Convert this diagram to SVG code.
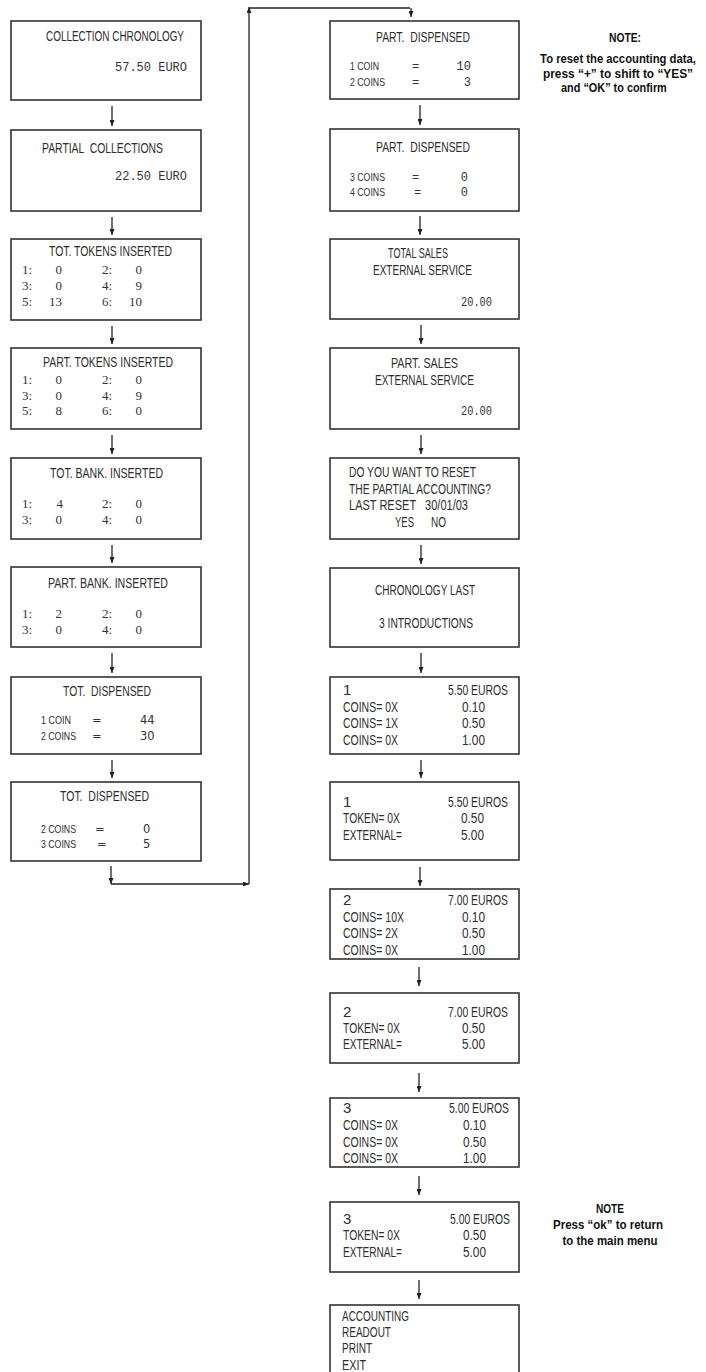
<svg xmlns="http://www.w3.org/2000/svg" width="706" height="1372" viewBox="0 0 706 1372">
<style>
.bg{fill:#fff}
.box{fill:#fff;stroke:#333;stroke-width:1.6}
.t{font-family:"Liberation Sans Narrow","Liberation Sans",Arial,sans-serif;font-size:14px;fill:#2e2e2e;white-space:pre}
.t14{font-size:15px}
.s{font-size:11.5px}
.m{font-family:"Liberation Mono","Courier New",monospace;font-size:12px;fill:#333;white-space:pre}
.r{font-family:"Liberation Serif","Times New Roman",serif;font-size:13px;fill:#333}
.d{font-family:"DejaVu Sans",Verdana,sans-serif;font-size:11.5px;fill:#333}
.e{text-anchor:end}
.n{font-family:"Liberation Sans Narrow","Liberation Sans",Arial,sans-serif;font-weight:bold;font-size:13.5px;fill:#111;text-anchor:middle}
.c{stroke:#222;stroke-width:1.3;fill:none}
</style>
<defs>
<marker id="ah" markerWidth="6" markerHeight="5" refX="6" refY="2.5" orient="auto" markerUnits="userSpaceOnUse"><path d="M0,0 L6,2.5 L0,5 z" fill="#222"/></marker>
</defs>
<rect class="bg" x="0" y="0" width="706" height="1372"/>

<g id="connectors">
<line class="c" x1="112" y1="106" x2="112" y2="126" marker-end="url(#ah)"/>
<line class="c" x1="112" y1="217" x2="112" y2="235" marker-end="url(#ah)"/>
<line class="c" x1="112" y1="326" x2="112" y2="344" marker-end="url(#ah)"/>
<line class="c" x1="112" y1="435" x2="112" y2="454" marker-end="url(#ah)"/>
<line class="c" x1="112" y1="545" x2="112" y2="563" marker-end="url(#ah)"/>
<line class="c" x1="112" y1="653" x2="112" y2="673" marker-end="url(#ah)"/>
<line class="c" x1="112" y1="760" x2="112" y2="778" marker-end="url(#ah)"/>
<line class="c" x1="111" y1="866" x2="111" y2="884" marker-end="url(#ah)"/>
<line class="c" x1="111" y1="884" x2="249" y2="884" marker-end="url(#ah)"/>
<line class="c" x1="249" y1="884" x2="249" y2="7" marker-end="url(#ah)"/>
<line class="c" x1="249" y1="8" x2="410" y2="8"/>
<line class="c" x1="411" y1="8" x2="411" y2="17" marker-end="url(#ah)"/>
<line class="c" x1="420" y1="105" x2="420" y2="125" marker-end="url(#ah)"/>
<line class="c" x1="420" y1="216" x2="420" y2="235" marker-end="url(#ah)"/>
<line class="c" x1="421" y1="325" x2="421" y2="344" marker-end="url(#ah)"/>
<line class="c" x1="421" y1="435" x2="421" y2="454" marker-end="url(#ah)"/>
<line class="c" x1="421" y1="545" x2="421" y2="564" marker-end="url(#ah)"/>
<line class="c" x1="421" y1="653" x2="421" y2="673" marker-end="url(#ah)"/>
<line class="c" x1="421" y1="760" x2="421" y2="778" marker-end="url(#ah)"/>
<line class="c" x1="420" y1="867" x2="420" y2="886" marker-end="url(#ah)"/>
<line class="c" x1="419" y1="967" x2="419" y2="986" marker-end="url(#ah)"/>
<line class="c" x1="419" y1="1073" x2="419" y2="1092" marker-end="url(#ah)"/>
<line class="c" x1="419" y1="1176" x2="419" y2="1195" marker-end="url(#ah)"/>
<line class="c" x1="419" y1="1280" x2="419" y2="1299" marker-end="url(#ah)"/>
</g>

<g id="collection-chronology">
<rect class="box" x="11" y="21" width="190" height="79"/>
<text class="t" x="46" y="41" textLength="138" lengthAdjust="spacingAndGlyphs">COLLECTION CHRONOLOGY</text>
<text class="m" x="115" y="71">57.50 EURO</text>
</g>
<g id="partial-collections">
<rect class="box" x="11" y="130" width="190" height="81"/>
<text class="t" x="42" y="153" textLength="121" lengthAdjust="spacingAndGlyphs">PARTIAL  COLLECTIONS</text>
<text class="m" x="115" y="180">22.50 EURO</text>
</g>
<g id="tot-tokens">
<rect class="box" x="11" y="239" width="190" height="81"/>
<text class="t t14" x="49" y="256" textLength="123" lengthAdjust="spacingAndGlyphs">TOT. TOKENS INSERTED</text>
<text class="r" x="22" y="274">1:</text><text class="r e" x="62" y="274">0</text><text class="r" x="102" y="274">2:</text><text class="r e" x="142" y="274">0</text>
<text class="r" x="22" y="290">3:</text><text class="r e" x="62" y="290">0</text><text class="r" x="102" y="290">4:</text><text class="r e" x="142" y="290">9</text>
<text class="r" x="22" y="306">5:</text><text class="r e" x="62" y="306">13</text><text class="r" x="102" y="306">6:</text><text class="r e" x="142" y="306">10</text>
</g>
<g id="part-tokens">
<rect class="box" x="11" y="348" width="190" height="81"/>
<text class="t t14" x="43" y="367" textLength="130" lengthAdjust="spacingAndGlyphs">PART. TOKENS INSERTED</text>
<text class="r" x="22" y="384">1:</text><text class="r e" x="62" y="384">0</text><text class="r" x="102" y="384">2:</text><text class="r e" x="142" y="384">0</text>
<text class="r" x="22" y="400">3:</text><text class="r e" x="62" y="400">0</text><text class="r" x="102" y="400">4:</text><text class="r e" x="142" y="400">9</text>
<text class="r" x="22" y="415">5:</text><text class="r e" x="62" y="415">8</text><text class="r" x="102" y="415">6:</text><text class="r e" x="142" y="415">0</text>
</g>
<g id="tot-bank">
<rect class="box" x="11" y="458" width="190" height="81"/>
<text class="t t14" x="50" y="478" textLength="113" lengthAdjust="spacingAndGlyphs">TOT. BANK. INSERTED</text>
<text class="r" x="22" y="508">1:</text><text class="r e" x="63" y="508">4</text><text class="r" x="102" y="508">2:</text><text class="r e" x="142" y="508">0</text>
<text class="r" x="22" y="524">3:</text><text class="r e" x="62" y="524">0</text><text class="r" x="102" y="524">4:</text><text class="r e" x="142" y="524">0</text>
</g>
<g id="part-bank">
<rect class="box" x="11" y="567" width="190" height="80"/>
<text class="t t14" x="48" y="588" textLength="120" lengthAdjust="spacingAndGlyphs">PART. BANK. INSERTED</text>
<text class="r" x="22" y="618">1:</text><text class="r e" x="62" y="618">2</text><text class="r" x="102" y="618">2:</text><text class="r e" x="142" y="618">0</text>
<text class="r" x="22" y="634">3:</text><text class="r e" x="62" y="634">0</text><text class="r" x="102" y="634">4:</text><text class="r e" x="142" y="634">0</text>
</g>
<g id="tot-dispensed-1">
<rect class="box" x="11" y="677" width="190" height="77"/>
<text class="t t14" x="63" y="696" textLength="88" lengthAdjust="spacingAndGlyphs">TOT.  DISPENSED</text>
<text class="t s" x="41" y="724" textLength="30" lengthAdjust="spacingAndGlyphs">1 COIN</text><text class="d" x="92" y="724">=</text><text class="d" x="140" y="724">44</text>
<text class="t s" x="41" y="740" textLength="35" lengthAdjust="spacingAndGlyphs">2 COINS</text><text class="d" x="92" y="740">=</text><text class="d" x="140" y="740">30</text>
</g>
<g id="tot-dispensed-2">
<rect class="box" x="11" y="782" width="190" height="79"/>
<text class="t t14" x="60" y="801" textLength="89" lengthAdjust="spacingAndGlyphs">TOT.  DISPENSED</text>
<text class="t s" x="41" y="833" textLength="35" lengthAdjust="spacingAndGlyphs">2 COINS</text><text class="d" x="95" y="833">=</text><text class="d" x="143" y="833">0</text>
<text class="t s" x="41" y="848" textLength="35" lengthAdjust="spacingAndGlyphs">3 COINS</text><text class="d" x="97" y="848">=</text><text class="d" x="143" y="848">5</text>
</g>

<g id="part-dispensed-1">
<rect class="box" x="330" y="21" width="189" height="78"/>
<text class="t" x="376" y="42" textLength="94" lengthAdjust="spacingAndGlyphs">PART.  DISPENSED</text>
<text class="t s" x="350" y="70" textLength="29" lengthAdjust="spacingAndGlyphs">1 COIN</text><text class="m" x="412" y="70">=</text><text class="m e" x="471" y="70">10</text>
<text class="t s" x="350" y="86" textLength="35" lengthAdjust="spacingAndGlyphs">2 COINS</text><text class="m" x="412" y="86">=</text><text class="m e" x="471" y="86">3</text>
</g>
<g id="part-dispensed-2">
<rect class="box" x="330" y="129" width="189" height="82"/>
<text class="t" x="376" y="152" textLength="94" lengthAdjust="spacingAndGlyphs">PART.  DISPENSED</text>
<text class="t s" x="350" y="181" textLength="35" lengthAdjust="spacingAndGlyphs">3 COINS</text><text class="m" x="412" y="181">=</text><text class="m e" x="468" y="181">0</text>
<text class="t s" x="350" y="196" textLength="35" lengthAdjust="spacingAndGlyphs">4 COINS</text><text class="m" x="414" y="196">=</text><text class="m e" x="468" y="196">0</text>
</g>
<g id="total-sales">
<rect class="box" x="330" y="239" width="189" height="80"/>
<text class="t t14" x="388" y="258" textLength="60" lengthAdjust="spacingAndGlyphs">TOTAL SALES</text>
<text class="t t14" x="373" y="275" textLength="99" lengthAdjust="spacingAndGlyphs">EXTERNAL SERVICE</text>
<text class="m" x="461" y="306" textLength="31" lengthAdjust="spacingAndGlyphs">20.00</text>
</g>
<g id="part-sales">
<rect class="box" x="330" y="348" width="189" height="81"/>
<text class="t t14" x="391" y="368" textLength="67" lengthAdjust="spacingAndGlyphs">PART. SALES</text>
<text class="t t14" x="375" y="385" textLength="99" lengthAdjust="spacingAndGlyphs">EXTERNAL SERVICE</text>
<text class="m" x="461" y="415" textLength="31" lengthAdjust="spacingAndGlyphs">20.00</text>
</g>
<g id="reset-question">
<rect class="box" x="330" y="458" width="189" height="81"/>
<text class="t t14" x="349" y="477" textLength="127" lengthAdjust="spacingAndGlyphs">DO YOU WANT TO RESET</text>
<text class="t t14" x="349" y="494" textLength="142" lengthAdjust="spacingAndGlyphs">THE PARTIAL ACCOUNTING?</text>
<text class="t t14" x="349" y="510" textLength="119" lengthAdjust="spacingAndGlyphs">LAST RESET   30/01/03</text>
<text class="t t14" x="395" y="527" textLength="19" lengthAdjust="spacingAndGlyphs">YES</text>
<text class="t t14" x="431" y="527" textLength="15" lengthAdjust="spacingAndGlyphs">NO</text>
</g>
<g id="chronology-last">
<rect class="box" x="330" y="568" width="189" height="79"/>
<text class="t t14" x="375" y="595" textLength="100" lengthAdjust="spacingAndGlyphs">CHRONOLOGY LAST</text>
<text class="t t14" x="379" y="628" textLength="94" lengthAdjust="spacingAndGlyphs">3 INTRODUCTIONS</text>
</g>
<g id="intro-1-coins">
<rect class="box" x="330" y="677" width="189" height="77"/>
<text class="t t14" x="343" y="695">1</text><text class="t t14" x="448" y="695" textLength="60" lengthAdjust="spacingAndGlyphs">5.50 EUROS</text>
<text class="t t14" x="343" y="712" textLength="55" lengthAdjust="spacingAndGlyphs">COINS= 0X</text><text class="t t14" x="462" y="712" textLength="23" lengthAdjust="spacingAndGlyphs">0.10</text>
<text class="t t14" x="343" y="728" textLength="55" lengthAdjust="spacingAndGlyphs">COINS= 1X</text><text class="t t14" x="462" y="728" textLength="23" lengthAdjust="spacingAndGlyphs">0.50</text>
<text class="t t14" x="343" y="745" textLength="55" lengthAdjust="spacingAndGlyphs">COINS= 0X</text><text class="t t14" x="462" y="745" textLength="23" lengthAdjust="spacingAndGlyphs">1.00</text>
</g>
<g id="intro-1-token">
<rect class="box" x="330" y="782" width="189" height="78"/>
<text class="t t14" x="343" y="807">1</text><text class="t t14" x="448" y="807" textLength="60" lengthAdjust="spacingAndGlyphs">5.50 EUROS</text>
<text class="t t14" x="343" y="823" textLength="57" lengthAdjust="spacingAndGlyphs">TOKEN= 0X</text><text class="t t14" x="461" y="823" textLength="23" lengthAdjust="spacingAndGlyphs">0.50</text>
<text class="t t14" x="343" y="840" textLength="59" lengthAdjust="spacingAndGlyphs">EXTERNAL=</text><text class="t t14" x="461" y="840" textLength="23" lengthAdjust="spacingAndGlyphs">5.00</text>
</g>
<g id="intro-2-coins">
<rect class="box" x="330" y="889" width="189" height="70"/>
<text class="t t14" x="343" y="905">2</text><text class="t t14" x="448" y="905" textLength="60" lengthAdjust="spacingAndGlyphs">7.00 EUROS</text>
<text class="t t14" x="343" y="922" textLength="61" lengthAdjust="spacingAndGlyphs">COINS= 10X</text><text class="t t14" x="462" y="922" textLength="23" lengthAdjust="spacingAndGlyphs">0.10</text>
<text class="t t14" x="343" y="938" textLength="55" lengthAdjust="spacingAndGlyphs">COINS= 2X</text><text class="t t14" x="462" y="938" textLength="23" lengthAdjust="spacingAndGlyphs">0.50</text>
<text class="t t14" x="343" y="955" textLength="55" lengthAdjust="spacingAndGlyphs">COINS= 0X</text><text class="t t14" x="462" y="955" textLength="23" lengthAdjust="spacingAndGlyphs">1.00</text>
</g>
<g id="intro-2-token">
<rect class="box" x="330" y="993" width="189" height="70"/>
<text class="t t14" x="343" y="1017">2</text><text class="t t14" x="448" y="1017" textLength="60" lengthAdjust="spacingAndGlyphs">7.00 EUROS</text>
<text class="t t14" x="343" y="1033" textLength="57" lengthAdjust="spacingAndGlyphs">TOKEN= 0X</text><text class="t t14" x="462" y="1033" textLength="23" lengthAdjust="spacingAndGlyphs">0.50</text>
<text class="t t14" x="343" y="1049" textLength="59" lengthAdjust="spacingAndGlyphs">EXTERNAL=</text><text class="t t14" x="462" y="1049" textLength="23" lengthAdjust="spacingAndGlyphs">5.00</text>
</g>
<g id="intro-3-coins">
<rect class="box" x="330" y="1098" width="189" height="69"/>
<text class="t t14" x="343" y="1113">3</text><text class="t t14" x="449" y="1113" textLength="60" lengthAdjust="spacingAndGlyphs">5.00 EUROS</text>
<text class="t t14" x="343" y="1130" textLength="55" lengthAdjust="spacingAndGlyphs">COINS= 0X</text><text class="t t14" x="463" y="1130" textLength="23" lengthAdjust="spacingAndGlyphs">0.10</text>
<text class="t t14" x="343" y="1147" textLength="55" lengthAdjust="spacingAndGlyphs">COINS= 0X</text><text class="t t14" x="463" y="1147" textLength="23" lengthAdjust="spacingAndGlyphs">0.50</text>
<text class="t t14" x="343" y="1163" textLength="55" lengthAdjust="spacingAndGlyphs">COINS= 0X</text><text class="t t14" x="463" y="1163" textLength="23" lengthAdjust="spacingAndGlyphs">1.00</text>
</g>
<g id="intro-3-token">
<rect class="box" x="330" y="1202" width="189" height="70"/>
<text class="t t14" x="343" y="1224">3</text><text class="t t14" x="450" y="1224" textLength="60" lengthAdjust="spacingAndGlyphs">5.00 EUROS</text>
<text class="t t14" x="343" y="1240" textLength="57" lengthAdjust="spacingAndGlyphs">TOKEN= 0X</text><text class="t t14" x="463" y="1240" textLength="23" lengthAdjust="spacingAndGlyphs">0.50</text>
<text class="t t14" x="343" y="1257" textLength="59" lengthAdjust="spacingAndGlyphs">EXTERNAL=</text><text class="t t14" x="463" y="1257" textLength="23" lengthAdjust="spacingAndGlyphs">5.00</text>
</g>
<g id="main-menu">
<rect class="box" x="330" y="1305" width="189" height="80"/>
<text class="t t14" x="342" y="1321" textLength="67" lengthAdjust="spacingAndGlyphs">ACCOUNTING</text>
<text class="t t14" x="342" y="1337" textLength="49" lengthAdjust="spacingAndGlyphs">READOUT</text>
<text class="t t14" x="342" y="1353" textLength="30" lengthAdjust="spacingAndGlyphs">PRINT</text>
<text class="t t14" x="342" y="1370" textLength="24" lengthAdjust="spacingAndGlyphs">EXIT</text>
</g>

<g id="note-reset" transform="translate(618 0) scale(0.82 1)">
<text class="n" x="8.5" y="42" textLength="39" lengthAdjust="spacingAndGlyphs">NOTE:</text>
<text class="n" x="0" y="63" textLength="190" lengthAdjust="spacingAndGlyphs">To reset the accounting data,</text>
<text class="n" x="0" y="78" textLength="183" lengthAdjust="spacingAndGlyphs">press “+” to shift to “YES”</text>
<text class="n" x="-5" y="92" textLength="129" lengthAdjust="spacingAndGlyphs">and “OK” to confirm</text>
</g>
<g id="note-return">
<text class="n" x="610" y="1213" textLength="28" lengthAdjust="spacingAndGlyphs">NOTE</text>
<text class="n" x="608" y="1229" textLength="110" lengthAdjust="spacingAndGlyphs">Press “ok” to return</text>
<text class="n" x="610" y="1245" textLength="95" lengthAdjust="spacingAndGlyphs">to the main menu</text>
</g>
</svg>
